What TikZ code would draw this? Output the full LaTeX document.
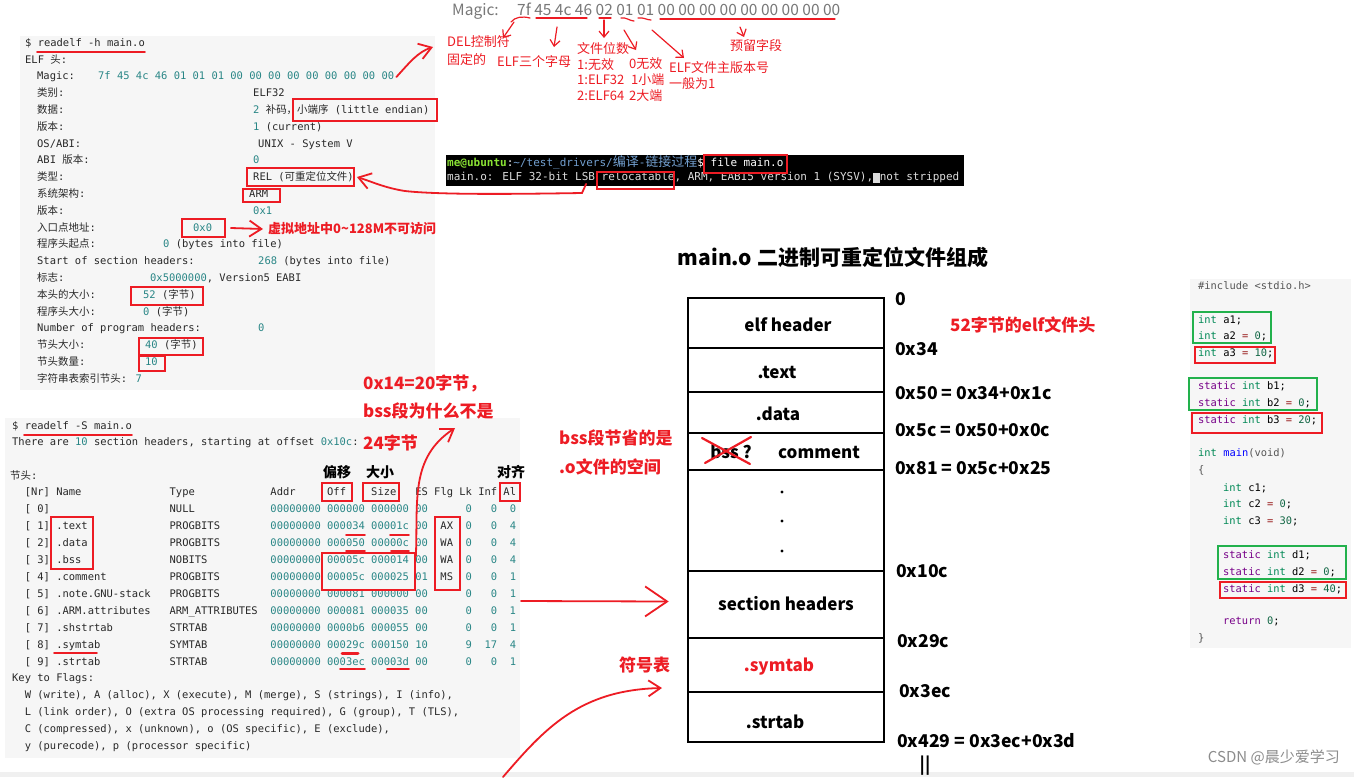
\documentclass[tikz,border=0pt]{standalone}
\usepackage{fontspec}
\setmainfont{Noto Sans CJK SC}
\newfontfamily\mono{DejaVu Sans Mono}
\newfontfamily\tmono{DejaVu Sans Mono}
\usetikzlibrary{arrows.meta,fit}
\definecolor{red1}{RGB}{237,28,36}
\definecolor{txt}{RGB}{40,40,40}
\definecolor{numc}{RGB}{41,134,134}
\definecolor{panelbg}{RGB}{246,246,246}
\definecolor{bandc}{RGB}{240,240,240}
\definecolor{grn}{RGB}{34,177,76}
\definecolor{tgreen}{RGB}{138,226,52}
\definecolor{tblue}{RGB}{114,159,207}
\definecolor{tgray}{RGB}{220,220,220}
\definecolor{kwc}{RGB}{119,0,136}
\definecolor{tyc}{RGB}{0,136,85}
\definecolor{nmc}{RGB}{17,102,68}
\definecolor{opc}{RGB}{152,26,26}
\definecolor{dfc}{RGB}{0,0,255}
\definecolor{mtc}{RGB}{85,85,85}
\definecolor{magc}{RGB}{120,120,120}
\newlength\mycw \setlength\mycw{6.3pt}
\newcommand\sk[1]{\hspace*{#1\mycw}}
\newcommand\zh[1]{{\rmfamily #1}}
\newcommand\nm[1]{\textcolor{numc}{#1}}
\newcommand\kI{\textcolor{tyc}{int}}
\newcommand\kS{\textcolor{kwc}{static}}
\newcommand\eq{\textcolor{opc}{=}}
\newcommand\cn[1]{\textcolor{nmc}{#1}}
\tikzset{
 mono/.style={anchor=west, inner sep=0pt, text=txt, font=\mono\fontsize{10.46}{12}\selectfont, text height=7.5pt, text depth=2.5pt},
 code/.style={mono, text=black, font=\mono\fontsize{10.4}{12}\selectfont},
 term/.style={anchor=west, inner sep=0pt, text=tgray, font=\tmono\fontsize{11}{13}\selectfont, text height=8pt, text depth=2.5pt},
 rbox/.style={draw=red1, line width=1.8pt, inner sep=0pt},
 gbox/.style={draw=grn, line width=1.8pt, inner sep=0pt},
 rul/.style={draw=red1, line width=1.8pt, line cap=round},
 thinr/.style={draw=red1, line width=1.2pt, line cap=round},
 bigbarb/.style={draw=red1, line width=1.8pt, line cap=round, -{Straight Barb[length=22pt,width=30pt]}},
 midbarb/.style={draw=red1, line width=1.8pt, line cap=round, -{Straight Barb[length=12pt,width=16pt]}},
 smbarb/.style={draw=red1, line width=1.2pt, line cap=round, -{Straight Barb[length=6pt,width=10pt]}},
 ann/.style={anchor=west, inner sep=0pt, text=red1, font=\rmfamily\fontsize{13}{15}\selectfont, text height=10pt, text depth=3pt},
 rtxt/.style={anchor=west, inner sep=0pt, text=red1, font=\rmfamily\bfseries\fontsize{17}{20}\selectfont},
 seg/.style={draw=black, line width=2.6pt, inner sep=0pt},
 dlab/.style={inner sep=0pt, text=black, font=\rmfamily\bfseries\fontsize{17}{20}\selectfont},
 offl/.style={dlab, anchor=west, font=\rmfamily\bfseries\fontsize{17.6}{20}\selectfont},
 blab/.style={anchor=west, inner sep=0pt, text=black, font=\rmfamily\bfseries\fontsize{14}{16}\selectfont},
 magt/.style={anchor=west, inner sep=0pt, text=magc, font=\rmfamily\fontsize{15.5}{17}\selectfont, text height=11pt, text depth=3pt},
}
\begin{document}
\begin{tikzpicture}[x=1pt,y=-1pt]
\useasboundingbox (0,0) rectangle (1354,777);
\fill[white] (0,0) rectangle (1354,777);
\fill[bandc] (0,772) rectangle (1354,777);
\fill[panelbg] (20,36) rectangle (435,390);
\fill[panelbg] (5,418) rectangle (520,758);
\fill[panelbg] (1190,279) rectangle (1351,648);

% ---------- panel 1: readelf -h ----------
\node[mono] (h0) at (25,44) {\$ readelf -h main.o};
\draw[rul] (37,52) -- (145,52);
\node[mono] (h1) at (25,61) {ELF \zh{头}:};
\node[mono] (h2) at (37,77) {Magic:};
\node[mono, text=numc] (h2v) at (98,77) {7f 45 4c 46 01 01 01 00 00 00 00 00 00 00 00 00};
\node[mono] (h3) at (37,94) {\zh{类别}:};
\node[mono] (h3v) at (253,94) {ELF32};
\node[mono] (h4) at (37,111) {\zh{数据}:};
\node[mono] (h4v) at (253,111) {\nm{2} \zh{补码，小端序} (little endian)};
\node[mono] (h5) at (37,128) {\zh{版本}:};
\node[mono] (h5v) at (253,128) {\nm{1} (current)};
\node[mono] (h6) at (37,145) {OS/ABI:};
\node[mono] (h6v) at (258,145) {UNIX - System V};
\node[mono] (h7) at (37,161) {ABI \zh{版本}:};
\node[mono] (h7v) at (253,161) {\nm{0}};
\node[mono] (h8) at (37,178) {\zh{类型}:};
\node[mono] (h8v) at (253,178) {REL (\zh{可重定位文件})};
\node[mono] (h9) at (37,195) {\zh{系统架构}:};
\node[mono] (h9v) at (249,195) {ARM};
\node[mono] (h10) at (37,212) {\zh{版本}:};
\node[mono] (h10v) at (253,212) {\nm{0x1}};
\node[mono] (h11) at (37,229) {\zh{入口点地址}:};
\node[mono] (h11v) at (193,229) {\nm{0x0}};
\node[mono] (h12) at (37,245) {\zh{程序头起点}:};
\node[mono] (h12v) at (163,245) {\nm{0} (bytes into file)};
\node[mono] (h13) at (37,262) {Start of section headers:};
\node[mono] (h13v) at (258,262) {\nm{268} (bytes into file)};
\node[mono] (h14) at (37,279) {\zh{标志}:};
\node[mono] (h14v) at (150,279) {\nm{0x5000000}, Version5 EABI};
\node[mono] (h15) at (37,296) {\zh{本头的大小}:};
\node[mono] (h15v) at (143,296) {\nm{52} (\zh{字节})};
\node[mono] (h16) at (37,313) {\zh{程序头大小}:};
\node[mono] (h16v) at (143,313) {\nm{0} (\zh{字节})};
\node[mono] (h17) at (37,329) {Number of program headers:};
\node[mono] (h17v) at (258,329) {\nm{0}};
\node[mono] (h18) at (37,346) {\zh{节头大小}:};
\node[mono] (h18v) at (145,346) {\nm{40} (\zh{字节})};
\node[mono] (h19) at (37,363) {\zh{节头数量}:};
\node[mono] (h19v) at (145,363) {\nm{10}};
\node[mono] (h20) at (37,380) {\zh{字符串表索引节头}: \nm{7}};

\node[rbox, fit={(293,99) (437,121)}] (bxle) {};
\node[rbox, fit={(247,168) (354,186)}] (bxrel) {};
\node[rbox, fit={(243,189) (280,202)}] (bxarm) {};
\node[rbox, fit={(182,219) (225,237)}] (bxent) {};
\node[rbox, fit={(131,287) (203,305)}] (bxhs) {};
\node[rbox, fit={(139,338) (203,355)}] (bxshs) {};
\node[rbox, fit={(139,356) (165,371)}] (bxshn) {};

\node[anchor=west, inner sep=0pt, text=red1, font=\rmfamily\bfseries\fontsize{13}{15}\selectfont] (vtxt) at (268,229) {虚拟地址中0\textasciitilde 128M不可访问};
\draw[midbarb] ([xshift=5pt]bxent.east) -- ([xshift=-5pt]vtxt.west);

\coordinate (mgtip) at (433,47);
\draw[midbarb] ([xshift=2pt]h2v.east) .. controls (410,62) and (418,52) .. (mgtip);

% ---------- top magic annotation ----------
\node[magt] (tmg) at (452,11) {Magic:};
\node[magt] (tmgb) at (517,11) {7f 45 4c 46 02 01 01 00 00 00 00 00 00 00 00 00};
\draw[thinr] (511,22) .. controls (515,17) and (522,16) .. (530,18);
\draw[thinr] (536,18) -- (587,18);
\draw[thinr] (599,18) -- (611,18);
\draw[thinr] (621,18) .. controls (626,17) and (630,21) .. (634,21);
\draw[thinr] (638,18) .. controls (643,17) and (647,20) .. (651,20);
\draw[thinr] (660,19) -- (835,19);
\node[ann] (a1) at (447,43) {DEL控制符};
\node[ann] (a2) at (447,61) {固定的};
\node[ann] (a3) at (497,63) {ELF三个字母};
\node[ann] (a4) at (577,50) {文件位数};
\node[ann] (a5) at (577,66) {1:无效};
\node[ann] (a6) at (577,81) {1:ELF32};
\node[ann] (a7) at (577,97) {2:ELF64};
\node[ann] (a8) at (629,65) {0无效};
\node[ann] (a9) at (631,81) {1小端};
\node[ann] (a10) at (629,97) {2大端};
\node[ann] (a11) at (669,69) {ELF文件主版本号};
\node[ann] (a12) at (669,85) {一般为1};
\node[ann] (a13) at (730,47) {预留字段};
\coordinate (m1s) at (514,22); \coordinate (m1e) at (503,38);
\coordinate (m2s) at (557,27); \coordinate (m2e) at (554,47);
\coordinate (m3s) at (604,20); \coordinate (m3e) at (604,38);
\coordinate (m4s) at (624,30); \coordinate (m4e) at (636,50);
\coordinate (m5s) at (652,30); \coordinate (m5e) at (684,58);
\coordinate (m6s) at (740,27); \coordinate (m6e) at (744,37);
\draw[smbarb] (m1s) -- (m1e);
\draw[smbarb] (m2s) -- (m2e);
\draw[smbarb] (m3s) -- (m3e);
\draw[smbarb] (m4s) -- (m4e);
\draw[smbarb] (m5s) -- (m5e);
\draw[smbarb] (m6s) -- (m6e);

% ---------- terminal ----------
\fill[black] (446,155) rectangle (964,186);
\node[term] (tl1) at (447,164) {\textbf{\textcolor{tgreen}{me@ubuntu}}\textcolor{white}{:}\textcolor{tblue}{\textasciitilde/test\_drivers/{\rmfamily\fontsize{13}{14}\selectfont 编译}-{\rmfamily\fontsize{13}{14}\selectfont 链接过程}}\textcolor{white}{\$ file main.o}};
\node[term] (tl2) at (447,178) {main.o: ELF 32-bit LSB relocatable, ARM, EABI5 version 1 (SYSV),\rule[-2pt]{6.6pt}{10pt}not stripped};
\node[rbox, fit={(704,155) (787,173)}] (bxfile) {};
\node[rbox, fit={(597,172) (674,189)}] (bxreloc) {};
\draw[midbarb] ([xshift=-10pt,yshift=6pt]bxreloc.south west) -- (582,193) .. controls (520,194) and (440,195) .. (405,191) .. controls (385,188) and (370,181) .. ([xshift=2pt]bxrel.east);

% ---------- panel 2: readelf -S ----------
\node[mono] (s0) at (12,427) {\$ readelf -S main.o};
\draw[rul] (24,435) -- (132,435);
\node[mono] (s1l) at (12,443) {There are \nm{10} section headers, starting at offset \nm{0x10c}:};
\node[mono] (s2l) at (10,477) {\zh{节头}:};
\node[blab] (lbo) at (323,472) {偏移};
\node[blab] (lbs) at (366,472) {大小};
\node[blab] (lba) at (497,472) {对齐};
\node[mono] (sh) at (12,493) {\sk{2}[Nr] Name\sk{14}Type\sk{12}Addr\sk{5}Off\sk{4}Size\sk{3}ES Flg Lk Inf Al};
\node[mono] (r0) at (12,510) {\sk{2}[ 0]\sk{19}NULL\sk{12}\nm{00000000 000000 000000 00}\sk{6}\nm{0}\sk{3}\nm{0}\sk{2}\nm{0}};
\node[mono] (r1) at (12,527) {\sk{2}[ 1] .text\sk{13}PROGBITS\sk{8}\nm{00000000 000034 00001c 00}\sk{2}AX\sk{2}\nm{0}\sk{3}\nm{0}\sk{2}\nm{4}};
\node[mono] (r2) at (12,544) {\sk{2}[ 2] .data\sk{13}PROGBITS\sk{8}\nm{00000000 000050 00000c 00}\sk{2}WA\sk{2}\nm{0}\sk{3}\nm{0}\sk{2}\nm{4}};
\node[mono] (r3) at (12,561) {\sk{2}[ 3] .bss\sk{14}NOBITS\sk{10}\nm{00000000 00005c 000014 00}\sk{2}WA\sk{2}\nm{0}\sk{3}\nm{0}\sk{2}\nm{4}};
\node[mono] (r4) at (12,578) {\sk{2}[ 4] .comment\sk{10}PROGBITS\sk{8}\nm{00000000 00005c 000025 01}\sk{2}MS\sk{2}\nm{0}\sk{3}\nm{0}\sk{2}\nm{1}};
\node[mono] (r5) at (12,595) {\sk{2}[ 5] .note.GNU-stack\sk{3}PROGBITS\sk{8}\nm{00000000 000081 000000 00}\sk{6}\nm{0}\sk{3}\nm{0}\sk{2}\nm{1}};
\node[mono] (r6) at (12,612) {\sk{2}[ 6] .ARM.attributes\sk{3}ARM\_ATTRIBUTES\sk{2}\nm{00000000 000081 000035 00}\sk{6}\nm{0}\sk{3}\nm{0}\sk{2}\nm{1}};
\node[mono] (r7) at (12,629) {\sk{2}[ 7] .shstrtab\sk{9}STRTAB\sk{10}\nm{00000000 0000b6 000055 00}\sk{6}\nm{0}\sk{3}\nm{0}\sk{2}\nm{1}};
\node[mono] (r8) at (12,646) {\sk{2}[ 8] .symtab\sk{11}SYMTAB\sk{10}\nm{00000000 00029c 000150 10}\sk{6}\nm{9}\sk{2}\nm{17}\sk{2}\nm{4}};
\node[mono] (r9) at (12,663) {\sk{2}[ 9] .strtab\sk{11}STRTAB\sk{10}\nm{00000000 0003ec 00003d 00}\sk{6}\nm{0}\sk{3}\nm{0}\sk{2}\nm{1}};
\node[mono] (k0) at (12,679) {Key to Flags:};
\node[mono] (k1) at (12,696) {\sk{2}W (write), A (alloc), X (execute), M (merge), S (strings), I (info),};
\node[mono] (k2) at (12,713) {\sk{2}L (link order), O (extra OS processing required), G (group), T (TLS),};
\node[mono] (k3) at (12,730) {\sk{2}C (compressed), x (unknown), o (OS specific), E (exclude),};
\node[mono] (k4) at (12,747) {\sk{2}y (purecode), p (processor specific)};

\node[rbox, fit={(322,483) (352,501)}] (bxoff) {};
\node[rbox, fit={(363,483) (399,501)}] (bxsize) {};
\node[rbox, fit={(500,483) (520,501)}] (bxal) {};
\node[rbox, fit={(51,517) (93,569)}] (bxname) {};
\node[rbox, fit={(435,517) (460,590)}] (bxflg) {};
\node[rbox, fit={(322,553) (415,590)}] (bxbss) {};
\draw[rul] (346,535) -- (365,535);
\draw[rul] (390,535) -- (409,535);
\draw[rul] (346,551) -- (365,551);
\draw[rul] (391,551) -- (409,551);
\draw[rul] (54,653) -- (97,653);
\draw[red1, line width=3pt, line cap=round] (342,653) -- (358,653);
\draw[rul] (340,669) -- (365,669);
\draw[rul] (387,669) -- (409,669);

\node[rtxt] (q1) at (363,383) {0x14=20字节，};
\node[rtxt] (q2) at (363,411) {bss段为什么不是};
\node[rtxt] (q3) at (363,443) {24字节};
\coordinate (q24) at (455,428);
\draw[midbarb] ([yshift=-4pt]bxbss.north east) .. controls (418,500) and (410,458) .. (q24);

% ---------- layout diagram ----------
\node[dlab, font=\rmfamily\bfseries\fontsize{21}{24}\selectfont] (title) at (833,257) {main.o 二进制可重定位文件组成};
\node[seg, fit={(688,298) (884,348)}] (g1) {};
\node[seg, fit={(688,348) (884,392)}] (g2) {};
\node[seg, fit={(688,392) (884,433)}] (g3) {};
\node[seg, fit={(688,433) (884,470)}] (g4) {};
\node[seg, fit={(688,470) (884,571)}] (g5) {};
\node[seg, fit={(688,571) (884,638)}] (g6) {};
\node[seg, fit={(688,638) (884,692)}] (g7) {};
\node[seg, fit={(688,692) (884,742)}] (g8) {};
\node[dlab] (lb1) at (788,325) {elf header};
\node[dlab] (lb2) at (777,372) {.text};
\node[dlab] (lb3) at (778,414) {.data};
\node[dlab] (lb4a) at (731,452) {bss ?};
\node[dlab] (lb4b) at (819,452) {comment};
\draw[red1, line width=2.2pt, line cap=round] (702,438) -- (750,464);
\draw[red1, line width=2.2pt, line cap=round] (705,463) -- (751,437);
\fill (782,492) circle (1.7);
\fill (782,521) circle (1.7);
\fill (782,551) circle (1.7);
\node[dlab] (lb6) at (786,604) {section headers};
\node[dlab, text=red1] (lb7) at (779,667) {.symtab};
\node[dlab] (lb8) at (775,722) {.strtab};
\node[offl] (o1) at (895,299) {0};
\node[offl] (o2) at (895,349) {0x34};
\node[offl] (o3) at (895,393) {0x50 = 0x34+0x1c};
\node[offl] (o4) at (895,430) {0x5c = 0x50+0x0c};
\node[offl] (o5) at (895,468) {0x81 = 0x5c+0x25};
\node[offl] (o6) at (896,571) {0x10c};
\node[offl] (o7) at (897,641) {0x29c};
\node[offl] (o8) at (899,691) {0x3ec};
\node[offl] (o9) at (897,741) {0x429 = 0x3ec+0x3d};
\node[dlab] (o10) at (925,766) {||};
\node[rtxt] (n52) at (950,325) {52字节的elf文件头};
\node[rtxt] (nb1) at (559,438) {bss段节省的是};
\node[rtxt] (nb2) at (559,467) {.o文件的空间};
\node[rtxt] (nsym) at (619,665) {符号表};
\coordinate (p2a) at (521,601);
\draw[bigbarb] (p2a) -- ([xshift=-18pt,yshift=3pt]g6.west);
\coordinate (cb) at (503,777);
\coordinate (cbt) at (662,688);
\draw[midbarb] (cb) .. controls (545,728) and (580,690) .. (cbt);

% ---------- code panel ----------
\node[code] (c1) at (1198,287) {\textcolor{mtc}{\#include <stdio.h>}};
\node[code] (c2) at (1198,321) {\kI{} a1;};
\node[code] (c3) at (1198,337) {\kI{} a2 \eq{} \cn{0};};
\node[code] (c4) at (1198,354) {\kI{} a3 \eq{} \cn{10};};
\node[code] (c5) at (1198,387) {\kS{} \kI{} b1;};
\node[code] (c6) at (1198,404) {\kS{} \kI{} b2 \eq{} \cn{0};};
\node[code] (c7) at (1198,421) {\kS{} \kI{} b3 \eq{} \cn{20};};
\node[code] (c8) at (1198,454) {\kI{} \textcolor{dfc}{main}\textcolor{mtc}{(void)}};
\node[code] (c9) at (1198,471) {\textcolor{mtc}{\{}};
\node[code] (c10) at (1223,489) {\kI{} c1;};
\node[code] (c11) at (1223,505) {\kI{} c2 \eq{} \cn{0};};
\node[code] (c12) at (1223,522) {\kI{} c3 \eq{} \cn{30};};
\node[code] (c13) at (1223,556) {\kS{} \kI{} d1;};
\node[code] (c14) at (1223,573) {\kS{} \kI{} d2 \eq{} \cn{0};};
\node[code] (c15) at (1223,590) {\kS{} \kI{} d3 \eq{} \cn{40};};
\node[code] (c16) at (1223,622) {\textcolor{kwc}{return} \cn{0};};
\node[code] (c17) at (1198,639) {\textcolor{mtc}{\}}};
\node[gbox, fit={(1193,312) (1271,343)}] (bga) {};
\node[rbox, fit={(1195,347) (1275,363)}] (bra) {};
\node[gbox, fit={(1189,378) (1317,410)}] (bgb) {};
\node[rbox, fit={(1192,413) (1322,433)}] (brb) {};
\node[gbox, fit={(1218,546) (1346,579)}] (bgd) {};
\node[rbox, fit={(1220,582) (1346,598)}] (brd) {};

\node[anchor=east, inner sep=0pt, text=black!45, font=\rmfamily\fontsize{15}{17}\selectfont] (wm) at (1340,757) {CSDN @晨少爱学习};
\end{tikzpicture}
\end{document}
